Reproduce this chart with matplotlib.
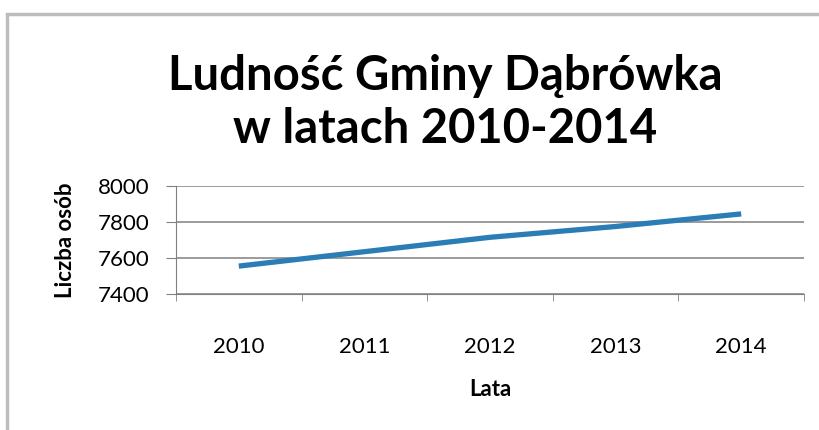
import matplotlib
matplotlib.use("Agg")
import matplotlib.pyplot as plt
from matplotlib.patches import Rectangle

# dane
lata = ["2010", "2011", "2012", "2013", "2014"]
ludnosc = [7555, 7635, 7715, 7775, 7845]
y_ticks = [7400, 7600, 7800, 8000]

plt.rcParams['font.family'] = ['Lato', 'DejaVu Sans']

fig = plt.figure(figsize=(8.2, 4.3), dpi=100)
fig.patch.set_facecolor("white")

# ramka wykresu (wychodzi poza kadr z prawej i z dołu)
fig.patches.append(Rectangle((7 / 820, -0.1), 1.2, (430 - 14) / 430 + 0.1,
                             transform=fig.transFigure, fill=False,
                             edgecolor="#BDBDBD", linewidth=2.5))

ax = fig.add_axes([176 / 820, (430 - 294) / 430, 628 / 820, 108 / 430])

x = range(len(lata))
ax.plot(x, ludnosc, color="#2B7DB5", linewidth=3.8, solid_capstyle="butt")

ax.set_xlim(-0.5, len(lata) - 0.5)
ax.set_ylim(7400, 8000)
ax.set_yticks(y_ticks)
ax.set_xticks(list(x))
ax.set_xticklabels(lata)
ax.set_xticks([i - 0.5 for i in range(len(lata) + 1)], minor=True)

ax.grid(axis="y", color="#808080", linewidth=1.1)
ax.set_axisbelow(True)
for s in ["top", "right"]:
    ax.spines[s].set_visible(False)
ax.spines["left"].set_color("#808080")
ax.spines["bottom"].set_color("#808080")

ax.tick_params(axis="y", length=7, color="#808080", labelsize=16, pad=12)
ax.tick_params(axis="x", which="major", length=0, labelsize=16, pad=31)
ax.tick_params(axis="x", which="minor", length=5, color="#808080")

ax.set_xlabel("Lata", fontsize=16, fontweight="bold", labelpad=16)
ax.set_ylabel("Liczba osób", fontsize=16, fontweight="bold", labelpad=16)

fig.text(0.543, (430 - 76) / 430, "Ludność Gminy Dąbrówka",
         ha="center", va="center", fontsize=34, fontweight="bold")
fig.text(0.543, (430 - 129) / 430, "w latach 2010-2014",
         ha="center", va="center", fontsize=34, fontweight="bold")

fig.savefig("out.png", dpi=100, facecolor="white")
